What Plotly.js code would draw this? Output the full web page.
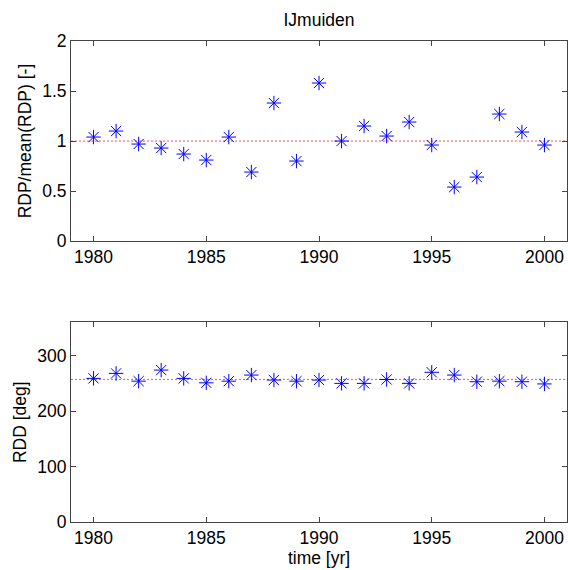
<!DOCTYPE html>
<html>
<head>
<meta charset="utf-8">
<script src="https://cdn.plot.ly/plotly-3.0.1.min.js"></script>
<style>html,body{margin:0;padding:0;background:#fff;}#chart{width:568px;height:570px;}</style>
</head>
<body>
<div id="chart"></div>
<script>
const years = [1980,1981,1982,1983,1984,1985,1986,1987,1988,1989,1990,1991,1992,1993,1994,1995,1996,1997,1998,1999,2000];
const rdpNorm = [1.04,1.10,0.97,0.93,0.87,0.81,1.04,0.69,1.38,0.80,1.58,1.00,1.15,1.05,1.19,0.96,0.54,0.64,1.27,1.09,0.96];
const rddDeg = [259,268,254,274,259,251,254,265,256,254,256,250,250,257,250,270,265,253,254,253,249];
const rdpMean = 1;
const rddMean = rddDeg.reduce((a,b)=>a+b,0)/rddDeg.length;

const font = {family:'Liberation Sans, Arial, sans-serif', size:17.5, color:'#000'};
const markerStyle = {symbol:'asterisk-open', size:12, color:'#0000ff', line:{width:1, color:'#0000ff'}};

const traces = [
  {x:years, y:rdpNorm, type:'scatter', mode:'markers', marker:markerStyle, xaxis:'x', yaxis:'y', hoverinfo:'x+y'},
  {x:years, y:rddDeg, type:'scatter', mode:'markers', marker:markerStyle, xaxis:'x2', yaxis:'y2', hoverinfo:'x+y'}
];

const axBase = {showline:true, linecolor:'#444', linewidth:1, mirror:'ticks', ticks:'inside', ticklen:5, tickcolor:'#444', showgrid:false, zeroline:false, tickfont:font};

const layout = {
  width:568, height:570,
  margin:{l:71, r:1, t:41, b:48},
  paper_bgcolor:'#fff', plot_bgcolor:'#fff',
  showlegend:false,
  font:font,
  title:{text:'IJmuiden', font:font, x:0.5, xref:'paper', xanchor:'center', y:1-20/570, yref:'container', yanchor:'middle'},
  xaxis:Object.assign({}, axBase, {domain:[0,1], range:[1979,2001], tickvals:[1980,1985,1990,1995,2000], anchor:'y'}),
  yaxis:Object.assign({}, axBase, {domain:[0.584,1], range:[0,2], tickvals:[0,0.5,1,1.5,2], ticktext:['0','0.5','1','1.5','2'], anchor:'x', title:{text:'RDP/mean(RDP) [-]', font:font, standoff:6}}),
  xaxis2:Object.assign({}, axBase, {domain:[0,1], range:[1979,2001], tickvals:[1980,1985,1990,1995,2000], anchor:'y2', title:{text:'time [yr]', font:font, standoff:4}}),
  yaxis2:Object.assign({}, axBase, {domain:[0,0.415], range:[0,360], tickvals:[0,100,200,300], anchor:'x2', title:{text:'RDD [deg]', font:font, standoff:6}}),
  shapes:[
    {type:'line', xref:'x domain', yref:'y', x0:0, x1:1, y0:rdpMean, y1:rdpMean, line:{color:'#ff5050', width:1, dash:'2px,2px'}, layer:'below'},
    {type:'line', xref:'x2 domain', yref:'y2', x0:0, x1:1, y0:rddMean, y1:rddMean, line:{color:'#ff5050', width:1, dash:'2px,2px'}, layer:'below'}
  ]
};

Plotly.newPlot('chart', traces, layout, {displayModeBar:false, staticPlot:true});
</script>
</body>
</html>
